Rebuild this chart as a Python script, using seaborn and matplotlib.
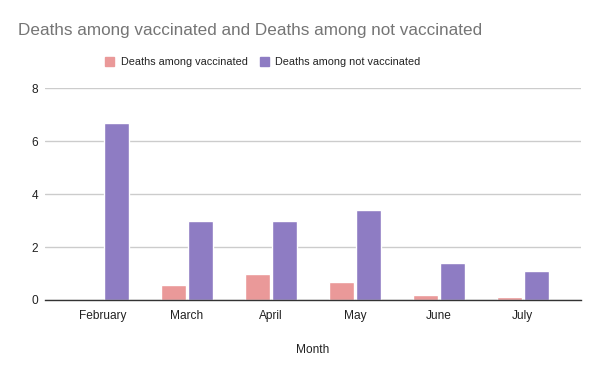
import matplotlib
matplotlib.use("Agg")
import matplotlib.pyplot as plt
import seaborn as sns
import pandas as pd

meses = ["February", "March", "April", "May", "June", "July"]
vacinados = [0.0, 0.57, 0.98, 0.68, 0.2, 0.1]
nao_vacinados = [6.68, 2.98, 2.98, 3.4, 1.4, 1.1]
series = ["Deaths among vaccinated", "Deaths among not vaccinated"]
cores = ["#ea9999", "#8e7cc3"]

df = pd.DataFrame({
    "Month": meses * 2,
    "valor": vacinados + nao_vacinados,
    "serie": [series[0]] * len(meses) + [series[1]] * len(meses),
})

sns.set_theme(style="white")
plt.rcParams['font.family'] = ['Liberation Sans', 'DejaVu Sans']

fig = plt.figure(figsize=(6, 3.71), dpi=100)
ax = fig.add_axes([0.075, 0.1914, 0.893, 0.5706])
sns.barplot(data=df, x="Month", y="valor", hue="serie", palette=cores,
            width=0.64, gap=0.07, saturation=1, ax=ax, legend=False)

ax.set_ylim(0, 8)
ax.set_xlim(-0.69, 5.69)
ax.set_yticks([0, 2, 4, 6, 8])
ax.yaxis.grid(True, color="#cccccc", linewidth=1)
ax.set_axisbelow(True)
for s in ["top", "right", "left"]:
    ax.spines[s].set_visible(False)
ax.spines["bottom"].set_color("#333333")
ax.spines["bottom"].set_linewidth(1.0)
ax.tick_params(axis="x", length=0, labelsize=8.6, colors="#222222", pad=7)
ax.tick_params(axis="y", length=0, labelsize=8.6, colors="#222222", pad=5)
ax.set_ylabel("")
ax.set_xlabel("Month", fontsize=8.6, color="#222222", labelpad=16)

fig.text(0.03, 0.917, "Deaths among vaccinated and Deaths among not vaccinated",
         fontsize=12.3, color="#757575", va="center", ha="left")

handles = [plt.Rectangle((0, 0), 1, 1, color=c) for c in cores]
fig.legend(handles, series, loc="center", bbox_to_anchor=(0.438, 0.833), ncol=2,
           frameon=False, fontsize=7.8, handlelength=0.85, handleheight=0.85,
           columnspacing=1.1, handletextpad=0.6, labelcolor="#222222")

fig.savefig("out.png", dpi=100)
